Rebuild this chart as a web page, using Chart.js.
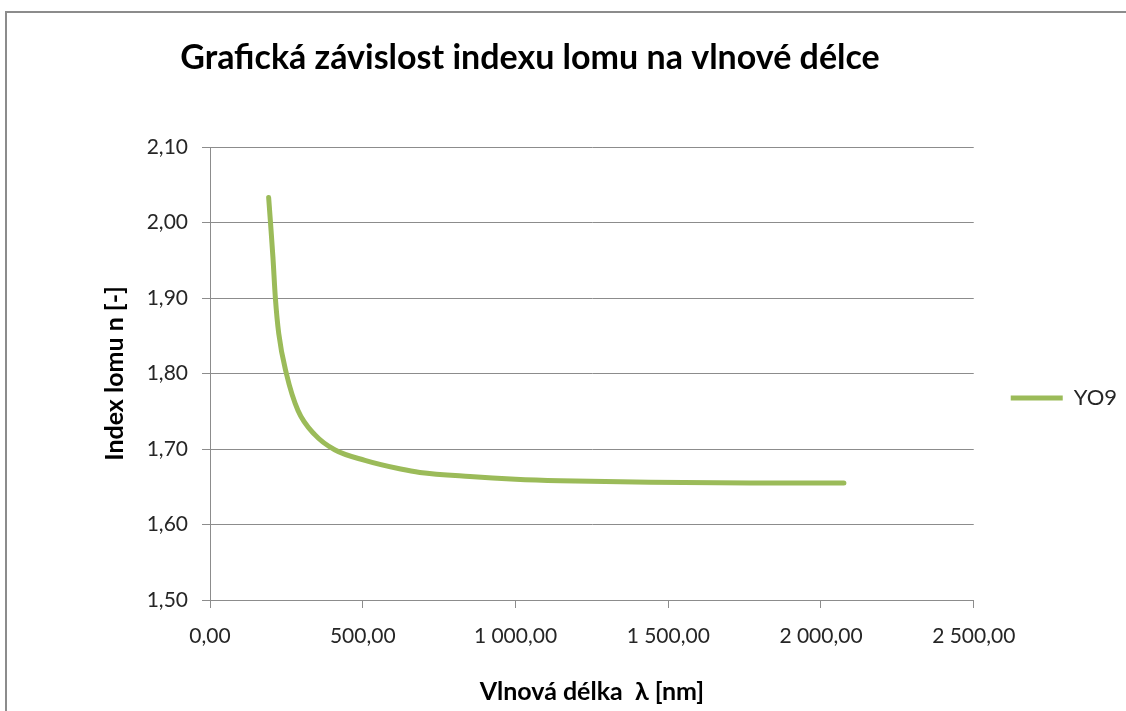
<!DOCTYPE html>
<html>
<head>
<meta charset="utf-8">
<script src="https://cdn.jsdelivr.net/npm/chart.js@4/dist/chart.umd.min.js"></script>
<style>
    html, body { margin: 0; padding: 0; background: #fff; overflow: hidden; }
    body { width: 1126px; height: 711px; position: relative; }
    #frame { position: absolute; left: 5px; top: 11px; width: 1200px; height: 800px; border-left: 2px solid #8c8c8c; border-top: 2px solid #8c8c8c; }
    #wrap { position: absolute; left: -67px; top: 0; width: 1194px; height: 796px; }
</style>
</head>
<body>
<div id="frame"></div>
<div id="wrap"><canvas id="chart"></canvas></div>
<script>
    // wavelength [nm] and refractive index
    const wavelengths = [192, 198, 206, 214, 225, 250, 288, 343, 408, 507, 624, 687, 851, 1000, 1146, 1441, 1769, 2075];
    const indexValues = [2.033, 2.000, 1.954, 1.900, 1.853, 1.800, 1.751, 1.719, 1.699, 1.685, 1.6735, 1.669, 1.6635, 1.660, 1.658, 1.656, 1.655, 1.655];
    const seriesName = 'YO9';

    const chartTitle = 'Grafická závislost indexu lomu na vlnové délce';
    const xTitle = 'Vlnová délka  λ [nm]';
    const yTitle = 'Index lomu n [-]';

    const fmt = (v) => {
        const parts = v.toFixed(2).split('.');
        parts[0] = parts[0].replace(/\B(?=(\d{3})+(?!\d))/g, ' ');
        return parts.join(',');
    };

    const points = wavelengths.map((l, i) => ({ x: l, y: indexValues[i] }));
    const green = '#9bbb59';
    const gridGray = '#8c8c8c';
    const textColor = '#262626';

    new Chart(document.getElementById('chart').getContext('2d'), {
        type: 'line',
        data: {
            datasets: [{
                label: seriesName,
                data: points,
                borderColor: green,
                backgroundColor: green,
                borderWidth: 5,
                borderCapStyle: 'round',
                borderJoinStyle: 'round',
                cubicInterpolationMode: 'monotone',
                pointRadius: 0,
                pointStyle: 'line',
                fill: false
            }]
        },
        options: {
            responsive: true,
            maintainAspectRatio: false,
            animation: false,
            layout: { padding: 0 },
            plugins: {
                title: {
                    display: true,
                    text: chartTitle,
                    color: '#000',
                    font: { family: 'Lato', size: 34, weight: 'bold', lineHeight: 1.2 },
                    padding: { top: 37.6, bottom: 68.6 }
                },
                legend: {
                    position: 'right',
                    labels: {
                        usePointStyle: true,
                        pointStyleWidth: 52,
                        padding: 37,
                        color: textColor,
                        font: { family: 'Lato', size: 22 }
                    }
                },
                tooltip: { enabled: false }
            },
            scales: {
                x: {
                    type: 'linear',
                    min: 0,
                    max: 2500,
                    ticks: {
                        stepSize: 500,
                        padding: 16,
                        color: textColor,
                        font: { family: 'Lato', size: 21 },
                        callback: (v) => fmt(v)
                    },
                    grid: { drawOnChartArea: false, tickLength: 8, color: gridGray, lineWidth: 1 },
                    border: { color: gridGray, width: 1 },
                    title: {
                        display: true,
                        text: xTitle,
                        color: '#000',
                        font: { family: 'Lato', size: 25, weight: 'bold', lineHeight: 1.2 },
                        padding: { top: 0, bottom: 89 }
                    },
                    afterFit: (s) => { s.height = 196; }
                },
                y: {
                    min: 1.5,
                    max: 2.1,
                    ticks: {
                        stepSize: 0.1,
                        padding: 14,
                        color: textColor,
                        font: { family: 'Lato', size: 21 },
                        callback: (v) => fmt(v)
                    },
                    grid: { tickLength: 8, color: gridGray, lineWidth: 1 },
                    border: { color: gridGray, width: 1 },
                    title: {
                        display: true,
                        text: yTitle,
                        color: '#000',
                        font: { family: 'Lato', size: 25, weight: 'bold', lineHeight: 1.2 },
                        padding: { top: 167, bottom: 0 }
                    },
                    afterFit: (s) => { s.width = 277; }
                }
            }
        }
    });
</script>
</body>
</html>
